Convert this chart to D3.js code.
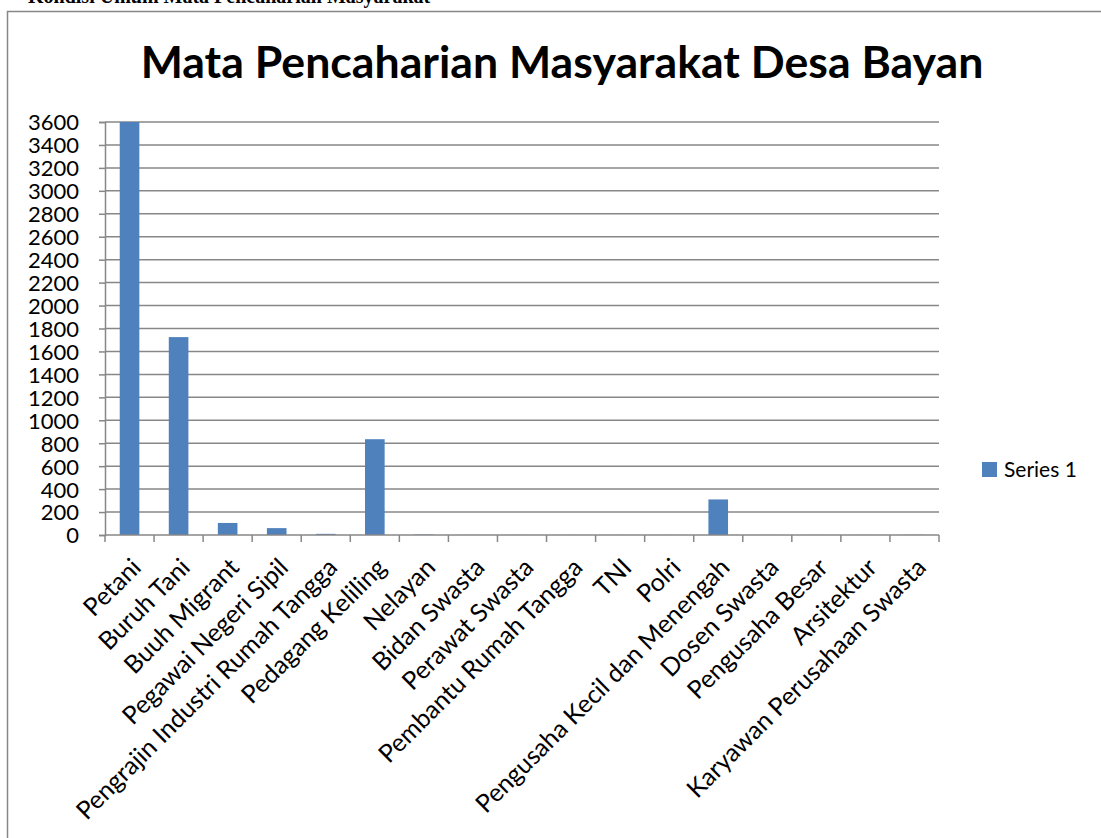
<!DOCTYPE html>
<html>
<head>
<meta charset="utf-8">
<script src="https://cdn.jsdelivr.net/npm/d3@7"></script>
<style>
  body { margin: 0; background: #fff; }
  svg { display: block; }
</style>
</head>
<body>
<div id="chart"></div>
<script>
// data
var categories = ["Petani", "Buruh Tani", "Buuh Migrant", "Pegawai Negeri Sipil", "Pengrajin Industri Rumah Tangga",
  "Pedagang Keliling", "Nelayan", "Bidan Swasta", "Perawat Swasta", "Pembantu Rumah Tangga", "TNI", "Polri",
  "Pengusaha Kecil dan Menengah", "Dosen Swasta", "Pengusaha Besar", "Arsitektur", "Karyawan Perusahaan Swasta"];
var values = [3600, 1725, 105, 60, 10, 835, 4, 1, 1, 1, 1, 1, 310, 1, 1, 1, 2];
var yTicks = [0, 200, 400, 600, 800, 1000, 1200, 1400, 1600, 1800, 2000, 2200, 2400, 2600, 2800, 3000, 3200, 3400, 3600];
var seriesName = "Series 1";

var width = 1101, height = 838;
var plotLeft = 105, plotRight = 939, plotTop = 122, plotBottom = 535;
var font = "Lato, 'Open Sans', sans-serif";
var grey = "#878787", blue = "#4f81bd";

var svg = d3.select("#chart").append("svg").attr("width", width).attr("height", height);

// cut-off text from the page above the chart
svg.append("text").attr("x", 28).attr("y", 3)
  .style("font-family", "'Liberation Serif', serif").style("font-size", "20px").style("font-weight", "bold")
  .text("Kondisi Umum Mata Pencaharian Masyarakat");

// chart frame
svg.append("rect").attr("x", 7.5).attr("y", 11.5).attr("width", 1200).attr("height", 900)
  .attr("fill", "none").attr("stroke", grey).attr("stroke-width", 1.5);

// title, sized to fit its width
var title = svg.append("text").attr("x", 562).attr("y", 78).attr("text-anchor", "middle")
  .style("font-family", font).style("font-weight", "bold").style("font-size", "40px")
  .text("Mata Pencaharian Masyarakat Desa Bayan");
var tw = title.node().getComputedTextLength();
title.style("font-size", (40 * 843 / tw) + "px");

var x = d3.scaleBand().domain(categories).range([plotLeft, plotRight]);
var y = d3.scaleLinear().domain([0, 3600]).range([plotBottom, plotTop]);

// gridlines
svg.append("g").selectAll("line").data(yTicks.slice(1)).enter().append("line")
  .attr("x1", plotLeft).attr("x2", plotRight)
  .attr("y1", function(d) { return y(d); }).attr("y2", function(d) { return y(d); })
  .attr("stroke", grey).attr("stroke-width", 1.5);

// bars
svg.append("g").selectAll("rect").data(values).enter().append("rect")
  .attr("x", function(d, i) { return x(categories[i]) + x.bandwidth() * 0.3; })
  .attr("width", x.bandwidth() * 0.4)
  .attr("y", function(d) { return y(d); })
  .attr("height", function(d) { return plotBottom - y(d); })
  .attr("fill", blue);

// y axis
var yAxis = svg.append("g").attr("transform", "translate(" + plotLeft + ",0)")
  .call(d3.axisLeft(y).tickValues(yTicks).tickSize(6).tickPadding(20).tickFormat(d3.format("d")));
yAxis.select(".domain").attr("stroke", grey).attr("stroke-width", 1.5);
yAxis.selectAll(".tick line").attr("stroke", grey).attr("stroke-width", 1.5);
yAxis.selectAll("text").style("font-family", font).style("font-size", "22px").attr("fill", "#000").attr("dy", "0.36em");

// x axis with ticks on band edges
var xg = svg.append("g");
xg.append("line").attr("x1", plotLeft).attr("x2", plotRight).attr("y1", plotBottom).attr("y2", plotBottom)
  .attr("stroke", grey).attr("stroke-width", 1.5);
var edges = categories.map(function(c) { return x(c); }).concat([plotRight]);
xg.selectAll(".edge").data(edges).enter().append("line").attr("class", "edge")
  .attr("x1", function(d) { return d; }).attr("x2", function(d) { return d; })
  .attr("y1", plotBottom).attr("y2", plotBottom + 7)
  .attr("stroke", grey).attr("stroke-width", 1.5);

xg.selectAll(".lbl").data(categories).enter().append("text").attr("class", "lbl")
  .attr("transform", function(d) { return "translate(" + (x(d) + x.bandwidth() / 2 + 13) + "," + 569 + ") rotate(-45)"; })
  .attr("text-anchor", "end")
  .style("font-family", font).style("font-size", "25px")
  .text(function(d) { return d; });

// legend
svg.append("rect").attr("x", 982).attr("y", 462).attr("width", 15).attr("height", 15).attr("fill", blue);
svg.append("text").attr("x", 1004).attr("y", 477)
  .style("font-family", font).style("font-size", "21px").text(seriesName);
</script>
</body>
</html>
